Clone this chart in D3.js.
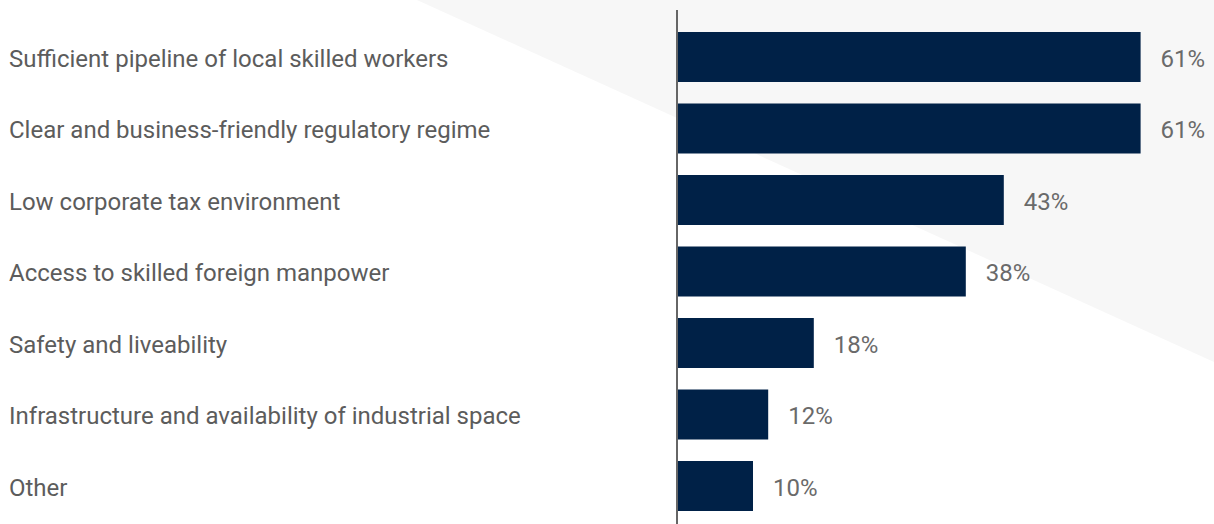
<!DOCTYPE html>
<html>
<head>
<meta charset="utf-8">
<script src="https://cdn.jsdelivr.net/npm/d3@7"></script>
<style>
  html, body { margin: 0; padding: 0; background: #ffffff; }
  svg { display: block; }
  text { font-family: Roboto, "Noto Sans", sans-serif; font-weight: 400; }
</style>
</head>
<body>
<svg id="chart" width="1214" height="524"></svg>
<script>
// Factors cited, share of respondents (%)
const categories = [
  "Sufficient pipeline of local skilled workers",
  "Clear and business-friendly regulatory regime",
  "Low corporate tax environment",
  "Access to skilled foreign manpower",
  "Safety and liveability",
  "Infrastructure and availability of industrial space",
  "Other"
];
const values = [61, 61, 43, 38, 18, 12, 10];

const width = 1214, height = 524;
const axisX = 677;
const svg = d3.select("#chart");

// Light diagonal backdrop in the upper right
svg.append("polygon")
  .attr("points", [[417, 0], [width, 0], [width, 362]].map(p => p.join(",")).join(" "))
  .attr("fill", "#f7f7f7");

const x = d3.scaleLinear().domain([0, 70]).range([axisX, axisX + 7.6 * 70]);

// Band scale: 50px bars on a ~71.5px step, first bar top at y=32
const barStep = 71.5, barH = 50;
const y = d3.scaleBand()
  .domain(categories)
  .range([32, 32 + (categories.length - 1) * barStep + barH])
  .paddingInner((barStep - barH) / barStep)
  .paddingOuter(0);

const fontSize = 24;

const rows = svg.append("g").selectAll("g")
  .data(categories.map((c, i) => ({ c, v: values[i] })))
  .join("g");

rows.append("rect")
  .attr("x", x(0) + 1)
  .attr("y", d => y(d.c))
  .attr("width", d => x(d.v) - x(0) - 1)
  .attr("height", y.bandwidth())
  .attr("fill", "#002147");

rows.append("text")
  .attr("x", 9)
  .attr("y", d => y(d.c) + y.bandwidth() / 2 + 9.5)
  .attr("font-size", fontSize)
  .attr("fill", "#5c5c5c")
  .text(d => d.c);

rows.append("text")
  .attr("x", d => x(d.v) + 20)
  .attr("y", d => y(d.c) + y.bandwidth() / 2 + 9.5)
  .attr("font-size", fontSize)
  .attr("fill", "#6a6a6a")
  .text(d => d.v + "%");

// Category axis line
svg.append("line")
  .attr("x1", axisX).attr("x2", axisX)
  .attr("y1", 10).attr("y2", height)
  .attr("stroke", "#666666")
  .attr("stroke-width", 2);
</script>
</body>
</html>
